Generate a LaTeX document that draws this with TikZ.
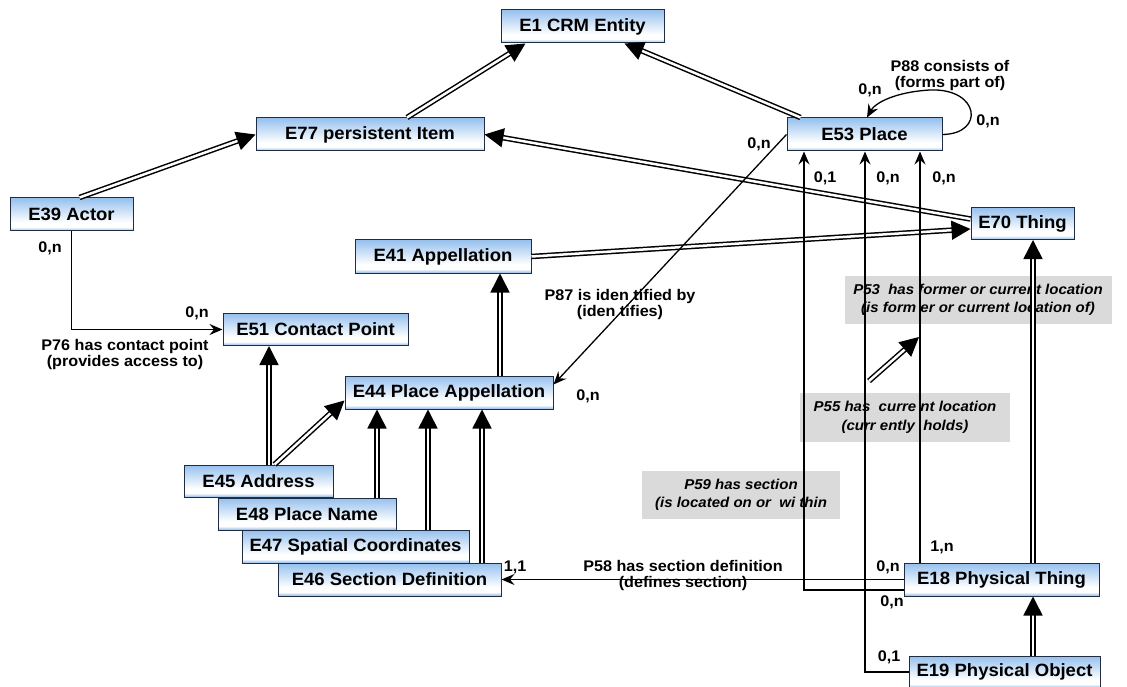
\documentclass[tikz,border=0pt]{standalone}
\usepackage{fontspec}
\newfontfamily\bx{Liberation Sans}[FakeStretch=1.04]
\newfontfamily\bxl{Liberation Sans}[FakeStretch=1.05]
\usetikzlibrary{arrows.meta,calc}
\definecolor{btop}{RGB}{150,192,238}
\definecolor{bbot}{RGB}{140,185,235}
\definecolor{bord}{RGB}{30,45,65}
\definecolor{lgray}{RGB}{218,218,218}
\pgfdeclareverticalshading{boxsh}{100bp}{color(0bp)=(bbot); color(25bp)=(bbot); color(31bp)=(white); color(38bp)=(white); color(75bp)=(btop); color(100bp)=(btop)}
\begin{document}
\begin{tikzpicture}[x=1pt,y=-1pt,
 cbox/.style={draw=bord, line width=1pt, shading=boxsh, minimum height=33pt, inner sep=0pt, font=\bx\bfseries\fontsize{17.8}{19}\selectfont},
 isa/.style={draw=black, double=white, double distance=2.5pt, line width=1.5pt, -{Triangle[length=19pt,width=19pt]}},
 rel/.style={draw=black, line width=1.3pt, -{Stealth[length=13pt,width=11pt,inset=4.5pt]}},
 card/.style={font=\bxl\bfseries\fontsize{15.4}{16}\selectfont, inner sep=0pt},
 plab/.style={font=\bxl\bfseries\fontsize{15.4}{16}\selectfont, align=center, inner sep=0pt},
 gbox/.style={fill=lgray, font=\bxl\bfseries\itshape\fontsize{14.3}{18.5}\selectfont, align=center, inner sep=0pt}
]
\useasboundingbox (0,0) rectangle (1127,687);
% gray label boxes
\node[gbox, minimum width=267pt, minimum height=48pt] (g53) at (978,300) {P53 \ has former or current location\\(is form er or current location of)};
\node[gbox, minimum width=210pt, minimum height=49pt] (g55) at (905,417.5) {P55 has \ curre nt location\\(curr ently \ holds)};
\node[gbox, minimum width=198pt, minimum height=48pt] (g59) at (741,495) {P59 has section\\(is located on or \ wi thin};
% class boxes
\node[cbox, minimum width=163pt] (E1) at (582.5,26.5) {E1 CRM Entity};
\node[cbox, minimum width=228pt] (E77) at (370,134.5) {E77 persistent Item};
\node[cbox, minimum width=123pt] (E39) at (71.5,214.5) {E39 Actor};
\node[cbox, minimum width=176pt] (E41) at (443,256.5) {E41 Appellation};
\node[cbox, minimum width=185pt, minimum height=32pt] (E51) at (315.5,329.5) {E51 Contact Point};
\node[cbox, minimum width=208pt] (E44) at (449,392.5) {E44 Place Appellation};
\node[cbox, minimum width=155pt] (E53) at (864.5,134.5) {E53 Place};
\node[cbox, minimum width=103pt, minimum height=32pt] (E70) at (1022.5,223.5) {E70 Thing};
\node[cbox, minimum width=149pt, minimum height=32pt] (E45) at (258.5,481) {E45 Address};
\node[cbox, minimum width=178pt, minimum height=32pt] (E48) at (307,514) {E48 Place Name};
\node[cbox, minimum width=227pt] (E47) at (355.5,546.5) {E47 Spatial Coordinates};
\node[cbox, minimum width=223pt] (E46) at (389.5,579.5) {E46 Section Definition};
\node[cbox, minimum width=195pt] (E18) at (1001.5,579.5) {E18 Physical Thing};
\node[cbox, minimum width=191pt, minimum height=32pt] (E19) at (1004.5,672) {E19 Physical Object};
% isA connectors
\draw[isa] ([xshift=37pt]E77.north) -- ([xshift=-57pt]E1.south);
\draw[isa] ([xshift=-64pt]E53.north) -- ([xshift=42pt]E1.south);
\draw[isa] ([xshift=8pt]E39.north) -- (E77.west);
\draw[isa] ([yshift=4.5pt]E70.west) -- (E77.east);
\draw[isa] (E41.east) -- ([yshift=-5.5pt]E70.west);
\draw[isa] ([xshift=51pt]E44.north) -- ([xshift=57pt]E41.south);
\draw[isa] ([xshift=10.5pt]E45.north) -- ([xshift=-46.5pt]E51.south);
\draw[isa] ([xshift=16pt]E45.north) -- ([yshift=-8pt]E44.west);
\draw[isa] ([xshift=70pt]E48.north) -- ([xshift=-72pt]E44.south);
\draw[isa] ([xshift=72.5pt]E47.north) -- ([xshift=-21pt]E44.south);
\draw[isa] ([xshift=92.5pt]E46.north) -- ([xshift=33pt]E44.south);
\draw[isa] ([xshift=31.5pt]E18.north) -- ([xshift=10.5pt]E70.south);
\draw[isa] ([xshift=28.5pt]E19.north) -- ([xshift=31.5pt]E18.south);
\coordinate (fa1) at (869,381);
\coordinate (fa2) at (919,337);
\draw[isa] (fa1) -- (fa2);
% property connectors
\draw[rel] (E39.south) |- (E51.west);
\draw[rel] (E53.west) -- ([yshift=8pt]E44.east);
\draw[rel] (E53.east) .. controls (985,134) and (980,88) .. (930,90) .. controls (895,92) and (875,103) .. ([xshift=2.5pt]E53.north);
\draw[rel] ([yshift=-10.5pt]E18.west) -| ([xshift=-60.5pt]E53.south);
\draw[rel] (E19.west) -| ([xshift=0.5pt]E53.south);
\draw[rel] ([xshift=-81.5pt]E18.north) -- ([xshift=55.5pt]E53.south);
\draw[rel] (E18.west) -- (E46.east);
% labels
\node[card] (c1) at (50,248) {0,n};
\node[card] (c2) at (197,313) {0,n};
\node[plab] (l76) at (125,355) {P76 has contact point\\(provides access to)};
\node[plab] (l87) at (620,305) {P87 is iden tified by\\(iden tifies)};
\node[card] (c3) at (759,144) {0,n};
\node[card] (c4) at (588,396) {0,n};
\node[card] (c5) at (870,90) {0,n};
\node[card] (c6) at (988,121) {0,n};
\node[plab] (l88) at (950,76) {P88 consists of\\(forms part of)};
\node[card] (c7) at (825,178) {0,1};
\node[card] (c8) at (888,178) {0,n};
\node[card] (c9) at (944,178) {0,n};
\node[card] (c10) at (942,547) {1,n};
\node[card] (c11) at (888,567) {0,n};
\node[card] (c12) at (892,602) {0,n};
\node[card] (c13) at (889,657) {0,1};
\node[card] (c14) at (515,567) {1,1};
\node[plab] (l58) at (683,576) {P58 has section definition\\(defines section)};
\end{tikzpicture}
\end{document}
